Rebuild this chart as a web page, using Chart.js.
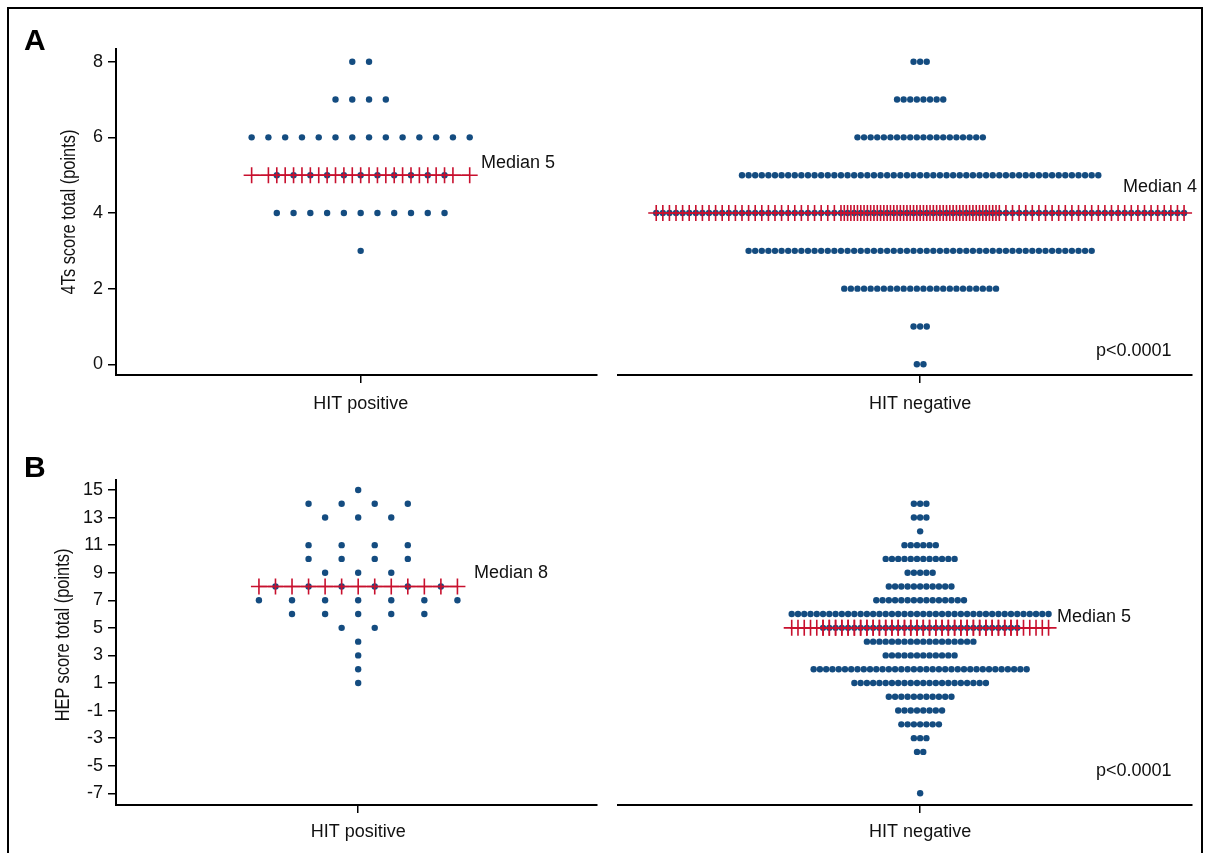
<!DOCTYPE html>
<html><head><meta charset="utf-8">
<script src="https://cdn.jsdelivr.net/npm/chart.js@4.4.1/dist/chart.umd.min.js"></script>
<style>
html,body{margin:0;padding:0;background:#fff;width:1205px;height:853px;overflow:hidden;position:relative;}
#frame{position:absolute;left:7px;top:7px;width:1196px;height:900px;border:2px solid #000;box-sizing:border-box;}
canvas{position:absolute;}
.lbl{position:absolute;font:bold 30px "Liberation Sans",Arial,sans-serif;line-height:30px;color:#000;}
.ann{position:absolute;font:18px "Liberation Sans",Arial,sans-serif;line-height:20px;color:#111;white-space:nowrap;}
.ytitle{position:absolute;font:21px "Liberation Sans",Arial,sans-serif;line-height:22px;color:#111;white-space:nowrap;
        transform:translate(-50%,-50%) rotate(-90deg) scaleX(0.78);}
</style></head><body>
<div id="frame"></div>
<canvas id="a1"></canvas><canvas id="a2"></canvas>
<canvas id="b1"></canvas><canvas id="b2"></canvas>
<div class="lbl" style="left:24px;top:25px">A</div>
<div class="lbl" style="left:24px;top:452px">B</div>
<div class="ytitle" id="ytA" style="left:68px;top:212px"></div>
<div class="ytitle" id="ytB" style="left:62px;top:635px"></div>
<div class="ann" style="left:481px;top:152px">Median 5</div>
<div class="ann" style="left:1123px;top:176px">Median 4</div>
<div class="ann" style="left:1096px;top:340px">p&lt;0.0001</div>
<div class="ann" style="left:474px;top:562px">Median 8</div>
<div class="ann" style="left:1057px;top:606px">Median 5</div>
<div class="ann" style="left:1096px;top:760px">p&lt;0.0001</div>
<script>
// ---------------- DATA ----------------
const categories = ['HIT positive', 'HIT negative'];

// Panel A: 4Ts score
const levelsA  = [8, 7, 6, 5, 4, 3, 2, 1, 0];
const hitPosA  = [2, 4, 14, 11, 11, 1, 0, 0, 0];
const hitNegA  = [3, 8, 20, 55, 81, 53, 24, 3, 2];
const medianA  = [5, 4];
const medianExtraMarksA = [14, 24];
const yTicksA  = [0, 2, 4, 6, 8];

// Panel B: HEP score
const levelsB  = [15, 14, 13, 12, 11, 10, 9, 8, 7, 6, 5, 4, 3, 2, 1, 0, -1, -2, -3, -4, -5, -6, -7];
const hitPosB  = [1, 4, 3, 0, 4, 4, 3, 6, 7, 5, 2, 1, 1, 1, 1, 0, 0, 0, 0, 0, 0, 0, 0];
const hitNegB  = [0, 3, 3, 1, 6, 12, 5, 11, 15, 42, 32, 18, 12, 35, 22, 11, 8, 7, 3, 2, 0, 0, 1];
const medianB  = [8, 5];
const medianExtraMarksB = [7, 42];
const yTicksB  = [-7, -5, -3, -1, 1, 3, 5, 7, 9, 11, 13, 15];

const yTitles = ['4Ts score total (points)', 'HEP score total (points)'];

// ---------------- DRAWING ----------------
document.getElementById('ytA').textContent = yTitles[0];
document.getElementById('ytB').textContent = yTitles[1];

const DOT = '#144c80', RED = '#c8102e';
const FONT = '"Liberation Sans", Arial, sans-serif';

function rowsToPoints(levels, counts, spacing) {
  const pts = [];
  levels.forEach((lv, r) => {
    const n = counts[r];
    for (let i = 0; i < n; i++) pts.push({x: (i - (n - 1) / 2) * spacing, y: lv});
  });
  return pts;
}
function medianMarks(levels, counts, median, nExtra, spacing) {
  const n = counts[levels.indexOf(median)];
  const xs = [];
  for (let i = 0; i < n; i++) xs.push((i - (n - 1) / 2) * spacing);
  for (let i = 0; i < nExtra; i++) xs.push((i - (nExtra - 1) / 2) * spacing);
  xs.sort((a, b) => a - b);
  return xs.map(x => ({x, y: median}));
}

function build(c) {
  const cv = document.getElementById(c.id);
  cv.width = c.w; cv.height = c.h;
  cv.style.left = c.x + 'px'; cv.style.top = c.y + 'px';
  const L = c.areaL - c.x, R = c.areaR - c.x, T = c.areaT - c.y, B = c.areaB - c.y;
  const cx = c.center - c.areaL;
  new Chart(cv, {
    type: 'scatter',
    data: {datasets: [
      {data: medianMarks(c.levels, c.counts, c.median, c.extra, c.spacing),
       showLine: true, borderColor: RED, borderWidth: 1.5,
       pointStyle: 'cross', pointRadius: 8, pointBorderColor: RED, pointBorderWidth: 1.6,
       order: 0, clip: false},
      {data: rowsToPoints(c.levels, c.counts, c.spacing),
       showLine: false, pointStyle: 'circle', pointRadius: 3.2,
       pointBackgroundColor: DOT, pointBorderWidth: 0, order: 1, clip: false}
    ]},
    options: {
      responsive: false, animation: false, devicePixelRatio: 1,
      layout: {padding: {left: c.showY ? 0 : L, top: T, right: c.w - R, bottom: 0}},
      plugins: {legend: {display: false}, tooltip: {enabled: false}},
      events: [],
      scales: {
        x: {
          type: 'linear', min: -cx, max: (R - L) - cx,
          afterBuildTicks: s => { s.ticks = [{value: 0}]; },
          afterFit: s => { s.height = c.h - B; },
          ticks: {callback: () => c.category, font: {family: FONT, size: 18}, color: '#111',
                  padding: c.xPad, maxRotation: 0, autoSkip: false},
          grid: {drawOnChartArea: false, drawTicks: true, tickLength: 8, color: '#000', lineWidth: 1.5},
          border: {display: true, color: '#000', width: 2}
        },
        y: {
          type: 'linear', display: c.showY, min: c.yMin, max: c.yMax,
          afterBuildTicks: s => { s.ticks = c.yTicks.map(v => ({value: v})); },
          afterFit: s => { s.width = L; },
          ticks: {callback: v => String(v), font: {family: FONT, size: 18}, color: '#111', padding: 5},
          grid: {drawOnChartArea: false, drawTicks: true, tickLength: 8, color: '#000', lineWidth: 1.5},
          border: {display: true, color: '#000', width: 2}
        }
      }
    }
  });
}

build({id: 'a1', x: 0, y: 0, w: 606, h: 430, areaL: 116, areaR: 600, areaT: 49, areaB: 375,
       center: 362.5, spacing: 16.9, levels: levelsA, counts: hitPosA, median: medianA[0], extra: medianExtraMarksA[0],
       yMin: -0.283, yMax: 8.336, yTicks: yTicksA, showY: true, xPad: 10, category: categories[0]});
build({id: 'a2', x: 606, y: 0, w: 599, h: 430, areaL: 612, areaR: 1192, areaT: 49, areaB: 375,
       center: 917.3, spacing: 6.667, levels: levelsA, counts: hitNegA, median: medianA[1], extra: medianExtraMarksA[1],
       yMin: -0.283, yMax: 8.336, yTicks: yTicksA, showY: false, xPad: 10, category: categories[1]});
build({id: 'b1', x: 0, y: 430, w: 606, h: 423, areaL: 116, areaR: 600, areaT: 480, areaB: 805,
       center: 360, spacing: 33.33, levels: levelsB, counts: hitPosB, median: medianB[0], extra: medianExtraMarksB[0],
       yMin: -7.85, yMax: 15.725, yTicks: yTicksB, showY: true, xPad: 8, category: categories[0]});
build({id: 'b2', x: 606, y: 430, w: 599, h: 423, areaL: 612, areaR: 1192, areaT: 480, areaB: 805,
       center: 917.3, spacing: 6.33, levels: levelsB, counts: hitNegB, median: medianB[1], extra: medianExtraMarksB[1],
       yMin: -7.85, yMax: 15.725, yTicks: yTicksB, showY: false, xPad: 8, category: categories[1]});
</script>
</body></html>
